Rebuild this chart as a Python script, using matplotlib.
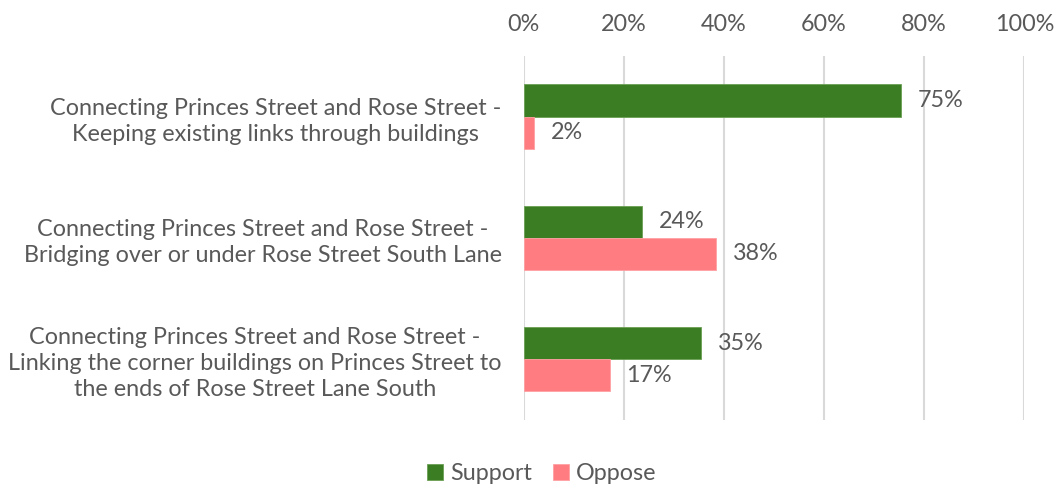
import matplotlib.pyplot as plt
import numpy as np

plt.rcParams['font.family'] = ['Lato', 'DejaVu Sans']

categories = [
    "Connecting Princes Street and Rose Street -\nKeeping existing links through buildings",
    "Connecting Princes Street and Rose Street -\nBridging over or under Rose Street South Lane",
    "Connecting Princes Street and Rose Street -\nLinking the corner buildings on Princes Street to\nthe ends of Rose Street Lane South",
]
support = [75.4, 23.6, 35.4]
oppose = [2.0, 38.4, 17.2]
support_labels = ["75%", "24%", "35%"]
oppose_labels = ["2%", "38%", "17%"]

green = '#3b7d23'
pink = '#ff7c80'
text_col = '#595959'
fs = 16.8

fig = plt.figure(figsize=(10.56, 4.86), dpi=100)
ax = fig.add_axes([0.496, 0.136, 0.474, 0.749])

y = np.arange(len(categories))
h = 0.265
b1 = ax.barh(y - h / 2, support, height=h, color=green, edgecolor='#6aa055', linewidth=0.6, label='Support', zorder=3)
b2 = ax.barh(y + h / 2, oppose, height=h, color=pink, edgecolor='#ffa0a3', linewidth=0.6, label='Oppose', zorder=3)

ax.bar_label(b1, labels=support_labels, padding=12, color=text_col, fontsize=fs)
ax.bar_label(b2, labels=oppose_labels, padding=12, color=text_col, fontsize=fs)

ax.set_xlim(0, 100)
ax.set_ylim(2.5, -0.5)
ax.set_xticks(range(0, 101, 20))
ax.set_xticklabels([f"{v}%" for v in range(0, 101, 20)])
ax.xaxis.tick_top()
ax.tick_params(axis='x', length=0, pad=15, labelsize=fs, labelcolor=text_col)
ax.set_yticks(y)
ax.set_yticklabels(categories, multialignment='center', linespacing=1.3)
ax.tick_params(axis='y', length=0, pad=16, labelsize=fs, labelcolor=text_col)
ax.grid(axis='x', color='#d9d9d9', linewidth=1.5, zorder=0)
for s in ax.spines.values():
    s.set_visible(False)

fig.legend(loc='lower center', bbox_to_anchor=(0.513, -0.04), ncol=2, frameon=False,
           handlelength=0.7, handleheight=0.7, handletextpad=0.3, columnspacing=0.9,
           prop={'size': fs}, labelcolor=text_col)

fig.savefig('out.png', dpi=100)
